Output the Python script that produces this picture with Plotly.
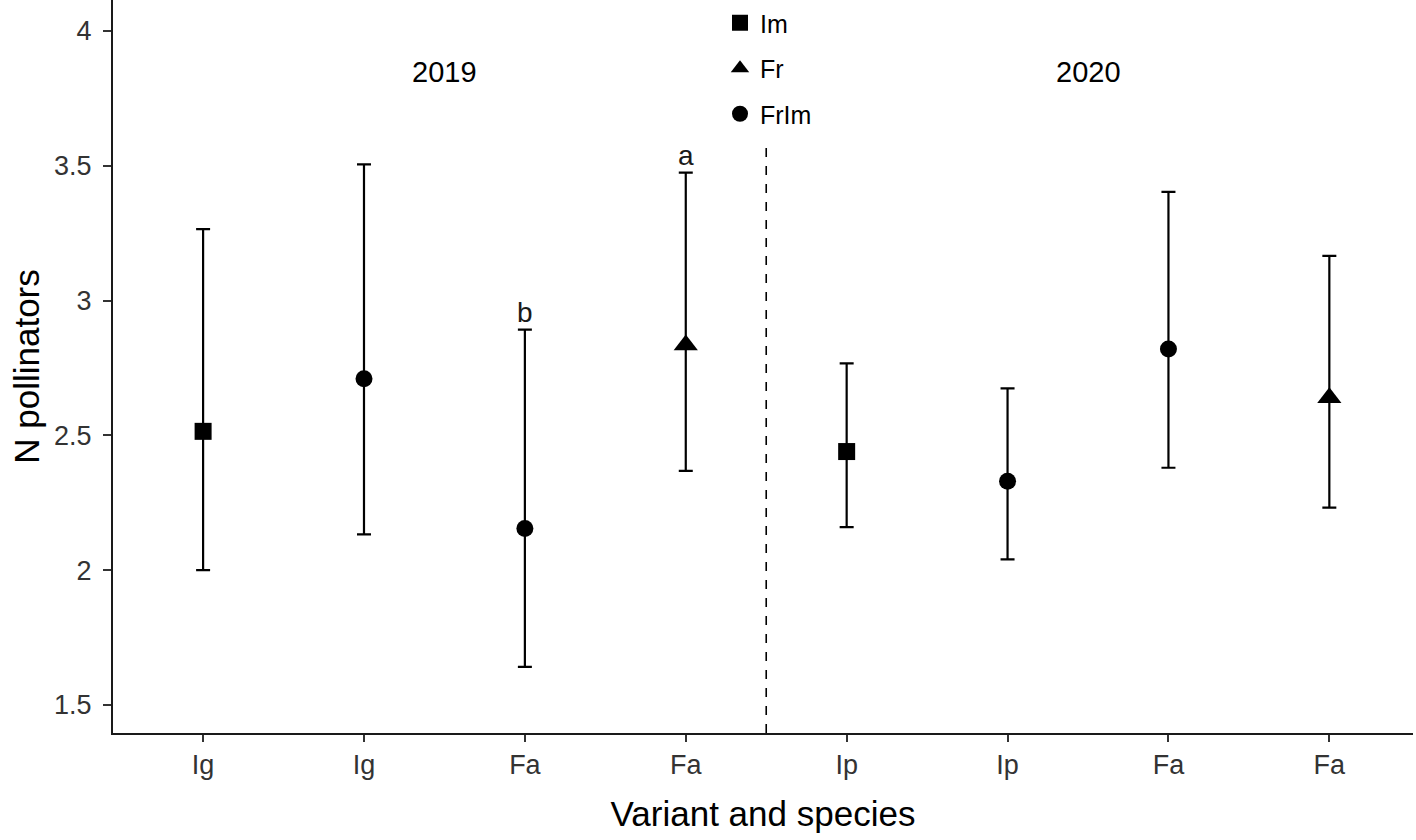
import plotly.graph_objects as go

tick_labels = ["Ig", "Ig", "Fa", "Fa", "Ip", "Ip", "Fa", "Fa"]
positions = [1, 2, 3, 4, 5, 6, 7, 8]
groups = ["Im", "FrIm", "FrIm", "Fr", "Im", "FrIm", "FrIm", "Fr"]
means = [2.515, 2.71, 2.155, 2.835, 2.44, 2.33, 2.82, 2.64]
upper = [3.265, 3.505, 2.892, 3.475, 2.767, 2.674, 3.403, 3.166]
lower = [2.0, 2.133, 1.641, 2.368, 2.16, 2.04, 2.38, 2.232]
letters = {3: "b", 4: "a"}
years = ["2019", "2020"]
year_x = [2.5, 6.5]

symbols = {"Im": ("square", 17), "Fr": ("triangle-up", 21), "FrIm": ("circle", 17)}
order = ["Im", "Fr", "FrIm"]
FONT = "Liberation Sans"

fig = go.Figure()
for g in order:
    idx = [i for i, gg in enumerate(groups) if gg == g]
    xs = [positions[i] for i in idx]
    ys = [means[i] for i in idx]
    ep = [upper[i] - means[i] for i in idx]
    em = [means[i] - lower[i] for i in idx]
    sym, sz = symbols[g]
    fig.add_trace(go.Scatter(
        x=xs, y=ys, mode="markers", name=g, legendgroup=g,
        marker=dict(symbol=sym, size=sz, color="black"),
        error_y=dict(type="data", array=ep, arrayminus=em, symmetric=False,
                     color="black", thickness=2.2, width=7),
    ))

for pos, lab in letters.items():
    i = positions.index(pos)
    fig.add_annotation(x=pos, y=upper[i], text=lab, showarrow=False,
                       yanchor="bottom", yshift=0,
                       font=dict(size=28, color="#1a1a1a", family=FONT))

for yx, yr in zip(year_x, years):
    fig.add_annotation(x=yx, y=3.848, text=yr, showarrow=False,
                       font=dict(size=29, color="black", family=FONT))

fig.add_shape(type="line", x0=4.5, x1=4.5, y0=1.396, y1=3.585, xref="x", yref="y",
              line=dict(color="black", width=1.6, dash="dash"))

fig.update_layout(
    width=1416, height=840,
    margin=dict(l=113, r=3, t=0, b=107),
    plot_bgcolor="white", paper_bgcolor="white",
    font=dict(family=FONT, color="black"),
    showlegend=True,
    legend=dict(x=(720 - 113) / 1300, y=1.0, xanchor="left", yanchor="top",
                font=dict(size=25, family=FONT, color="black"),
                tracegroupgap=10, bgcolor="rgba(255,255,255,1)",
                itemsizing="trace"),
    xaxis=dict(
        range=[0.44, 8.52], tickmode="array", tickvals=positions, ticktext=tick_labels,
        showgrid=False, zeroline=False, showline=True, linecolor="#1a1a1a", linewidth=2,
        ticks="outside", ticklen=7, tickwidth=1.5, tickcolor="#333",
        tickfont=dict(size=27, color="#333", family=FONT),
        title=dict(text="Variant and species", standoff=22,
                   font=dict(size=35, color="black", family=FONT)),
    ),
    yaxis=dict(
        range=[1.396, 4.115], tickmode="array", tickvals=[1.5, 2, 2.5, 3, 3.5, 4],
        ticktext=["1.5", "2", "2.5", "3", "3.5", "4"],
        showgrid=False, zeroline=False, showline=True, linecolor="#1a1a1a", linewidth=2,
        ticks="outside", ticklen=8, tickwidth=1.5, tickcolor="#333",
        ticklabelstandoff=6,
        tickfont=dict(size=27, color="#333", family=FONT),
        title=dict(text="N pollinators", standoff=4,
                   font=dict(size=35, color="black", family=FONT)),
    ),
)

fig.write_html("out.html", config={"displayModeBar": False})
with open("out.html", "r", encoding="utf-8") as f:
    html = f.read()
html = html.replace("<head>", "<head><style>html,body{margin:0;padding:0;overflow:hidden}</style>", 1)
with open("out.html", "w", encoding="utf-8") as f:
    f.write(html)
